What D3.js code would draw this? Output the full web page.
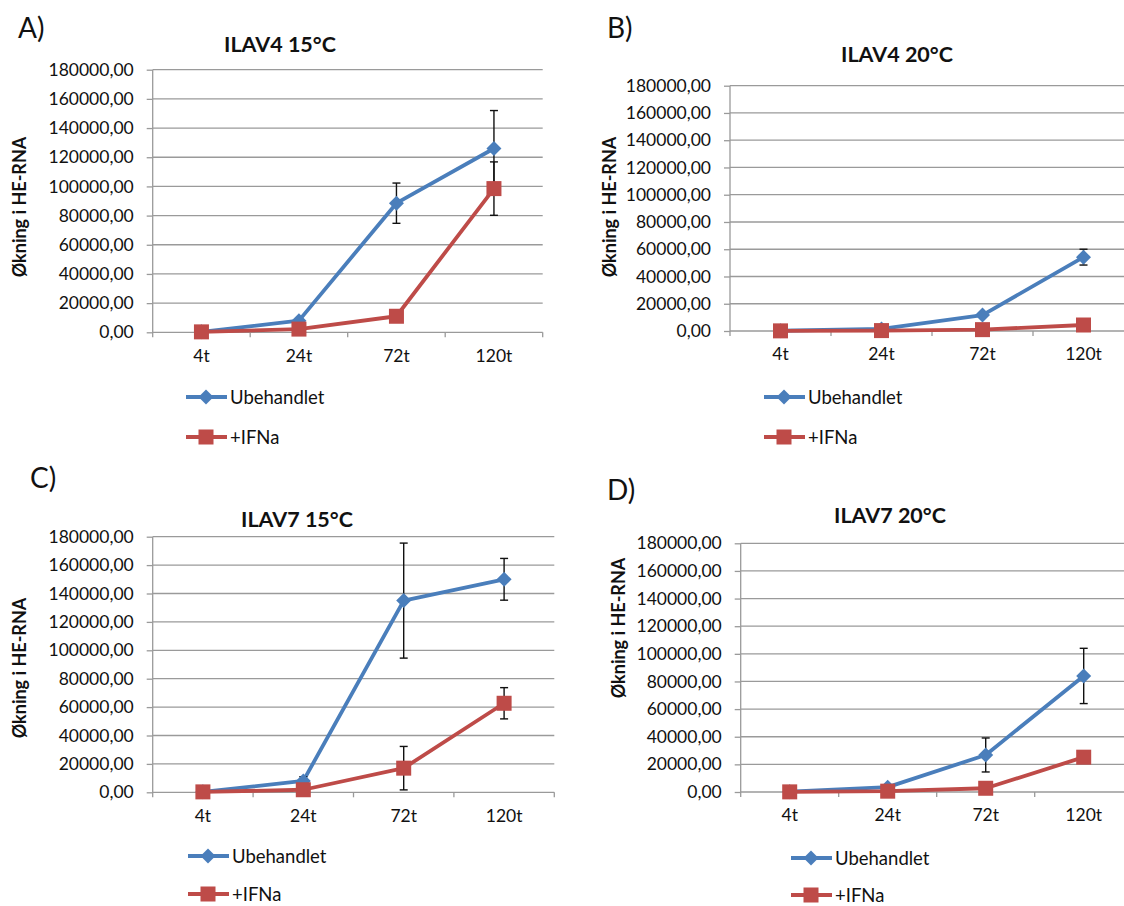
<!DOCTYPE html>
<html>
<head>
<meta charset="utf-8">
<script src="https://cdn.jsdelivr.net/npm/d3@7"></script>
<style>
  body { margin: 0; background: #fff; }
  svg { display: block; }
</style>
</head>
<body>
<div id="chart"></div>
<script>
// categories + ticks
var categories = ["4t", "24t", "72t", "120t"];
var yTicks = [0, 20000, 40000, 60000, 80000, 100000, 120000, 140000, 160000, 180000];
var seriesNames = ["Ubehandlet", "+IFNa"];
var panelLetters = ["A)", "B)", "C)", "D)"];
var panelTitles = ["ILAV4 15°C", "ILAV4 20°C", "ILAV7 15°C", "ILAV7 20°C"];
var yLabel = "Økning i HE-RNA";

// values
var ubehA = [300, 8000, 88500, 126000];
var ubehErrA = [0, 0, 13800, 26000];
var ifnaA = [300, 2200, 11000, 98500];
var ifnaErrA = [0, 0, 0, 18300];

var ubehB = [200, 1500, 11700, 54200];
var ubehErrB = [0, 0, 0, 5800];
var ifnaB = [100, 300, 1000, 4400];
var ifnaErrB = [0, 0, 0, 0];

var ubehC = [300, 8000, 135000, 150000];
var ubehErrC = [0, 3000, 40500, 14700];
var ifnaC = [300, 1800, 17000, 62700];
var ifnaErrC = [0, 0, 15300, 11000];

var ubehD = [200, 3500, 26800, 84000];
var ubehErrD = [0, 0, 12300, 20000];
var ifnaD = [100, 600, 2700, 25200];
var ifnaErrD = [0, 0, 0, 0];

var blue = "#4a7ebb", red = "#be4b48";
var font = "Lato, 'Open Sans', sans-serif";

// panel layout (pixel frame of each plot area)
var layouts = [
    {left: 152.7, right: 542.7, top: 69.7, bottom: 332.3,
     letter: [18, 38], title: [280, 52], ylab: [19, 207], legend: [186, 397, 437]},
    {left: 730, right: 1134, top: 85.7, bottom: 331,
     letter: [607, 38], title: [897, 62], ylab: [609, 207], legend: [764, 397, 437]},
    {left: 152.7, right: 554.3, top: 536.7, bottom: 792.3,
     letter: [30, 488], title: [297, 527], ylab: [19, 668], legend: [188, 856, 894]},
    {left: 740.7, right: 1132.7, top: 543.3, bottom: 792,
     letter: [607, 500], title: [890, 523], ylab: [618, 628], legend: [791, 858, 895]}
];

var panelData = [
    [{v: ubehA, e: ubehErrA}, {v: ifnaA, e: ifnaErrA}],
    [{v: ubehB, e: ubehErrB}, {v: ifnaB, e: ifnaErrB}],
    [{v: ubehC, e: ubehErrC}, {v: ifnaC, e: ifnaErrC}],
    [{v: ubehD, e: ubehErrD}, {v: ifnaD, e: ifnaErrD}]
];

var svg = d3.select("#chart").append("svg")
    .attr("width", 1124)
    .attr("height", 906)
    .style("font-family", font);

var fmt = function(d) { return d3.format(".2f")(d).replace(".", ","); };

function diamond(g, cx, cy, r, color) {
    g.append("path")
        .attr("d", "M" + cx + "," + (cy - r) + "L" + (cx + r) + "," + cy + "L" + cx + "," + (cy + r) + "L" + (cx - r) + "," + cy + "Z")
        .attr("fill", color);
}

function square(g, cx, cy, s, color) {
    g.append("rect")
        .attr("x", cx - s / 2).attr("y", cy - s / 2)
        .attr("width", s).attr("height", s)
        .attr("fill", color);
}

function drawPanel(i) {
    var L = layouts[i];
    var g = svg.append("g").attr("class", "panel");

    var x = d3.scaleBand().domain(categories).range([L.left, L.right]).padding(0);
    var y = d3.scaleLinear().domain([0, 180000]).range([L.bottom, L.top]);
    var cx = function(c) { return x(c) + x.bandwidth() / 2; };

    // gridlines
    g.append("g").selectAll("line.grid")
        .data(yTicks).enter().append("line")
        .attr("x1", L.left).attr("x2", L.right)
        .attr("y1", function(d) { return y(d); })
        .attr("y2", function(d) { return y(d); })
        .attr("stroke", "#9a9a9a").attr("stroke-width", 1.3);

    // y axis
    var ya = g.append("g")
        .attr("transform", "translate(" + L.left + ",0)")
        .call(d3.axisLeft(y).tickValues(yTicks).tickSize(6).tickPadding(13).tickFormat(fmt));
    ya.select(".domain").remove();
    ya.selectAll(".tick line").attr("stroke", "#9a9a9a").attr("stroke-width", 1.3);
    ya.selectAll("text").attr("font-family", font).attr("font-size", "17.5px").attr("fill", "#111");
    g.append("line")
        .attr("x1", L.left).attr("x2", L.left)
        .attr("y1", L.top).attr("y2", L.bottom + 5)
        .attr("stroke", "#9a9a9a").attr("stroke-width", 1.3);

    // x axis: labels at centres, ticks at band edges
    var xa = g.append("g")
        .attr("transform", "translate(0," + L.bottom + ")")
        .call(d3.axisBottom(x).tickSize(0).tickPadding(17));
    xa.select(".domain").remove();
    xa.selectAll("text").attr("font-family", font).attr("font-size", "17.5px").attr("fill", "#111");
    g.append("g").selectAll("line")
        .data(categories.slice(1).map(function(c) { return x(c); }).concat([L.right]))
        .enter().append("line")
        .attr("x1", function(d) { return d; }).attr("x2", function(d) { return d; })
        .attr("y1", L.bottom).attr("y2", L.bottom + 5)
        .attr("stroke", "#9a9a9a").attr("stroke-width", 1.3);

    // series
    var colors = [blue, red];
    panelData[i].forEach(function(s, si) {
        var pts = categories.map(function(c, k) { return {c: c, v: s.v[k], e: s.e[k]}; });
        var line = d3.line().x(function(d) { return cx(d.c); }).y(function(d) { return y(d.v); });
        g.append("path").datum(pts)
            .attr("d", line)
            .attr("fill", "none")
            .attr("stroke", colors[si])
            .attr("stroke-width", 3.8)
            .attr("stroke-linejoin", "round");

        var eb = g.append("g");
        pts.filter(function(d) { return d.e > 0; }).forEach(function(d) {
            var xx = cx(d.c);
            eb.append("line").attr("x1", xx).attr("x2", xx)
                .attr("y1", y(d.v + d.e)).attr("y2", y(d.v - d.e))
                .attr("stroke", "#111").attr("stroke-width", 1.4);
            [d.v + d.e, d.v - d.e].forEach(function(vv) {
                eb.append("line").attr("x1", xx - 4).attr("x2", xx + 4)
                    .attr("y1", y(vv)).attr("y2", y(vv))
                    .attr("stroke", "#111").attr("stroke-width", 1.4);
            });
        });

        pts.forEach(function(d) {
            if (si === 0) diamond(g, cx(d.c), y(d.v), 7.5, blue);
            else square(g, cx(d.c), y(d.v), 15, red);
        });
    });

    // letters, title, y label
    g.append("text")
        .attr("x", L.letter[0]).attr("y", L.letter[1])
        .attr("font-size", "28px").attr("fill", "#111")
        .text(panelLetters[i]);

    g.append("text")
        .attr("x", L.title[0]).attr("y", L.title[1])
        .attr("text-anchor", "middle")
        .attr("font-size", "21.5px").attr("font-weight", "bold").attr("fill", "#111")
        .text(panelTitles[i]);

    g.append("text")
        .attr("transform", "translate(" + L.ylab[0] + "," + L.ylab[1] + ") rotate(-90)")
        .attr("text-anchor", "middle")
        .attr("dominant-baseline", "central")
        .attr("font-size", "18px").attr("font-weight", "bold").attr("fill", "#111")
        .text(yLabel);

    // legend
    var lx = L.legend[0];
    [L.legend[1], L.legend[2]].forEach(function(ly, si) {
        g.append("line")
            .attr("x1", lx).attr("x2", lx + 41)
            .attr("y1", ly).attr("y2", ly)
            .attr("stroke", colors[si]).attr("stroke-width", 3.8);
        if (si === 0) diamond(g, lx + 20, ly, 7.5, blue);
        else square(g, lx + 20, ly, 15, red);
        g.append("text")
            .attr("x", lx + 44).attr("y", ly)
            .attr("dominant-baseline", "central")
            .attr("font-size", "18.5px").attr("fill", "#111")
            .text(seriesNames[si]);
    });
}

for (var p = 0; p < layouts.length; p++) {
    drawPanel(p);
}
</script>
</body>
</html>
